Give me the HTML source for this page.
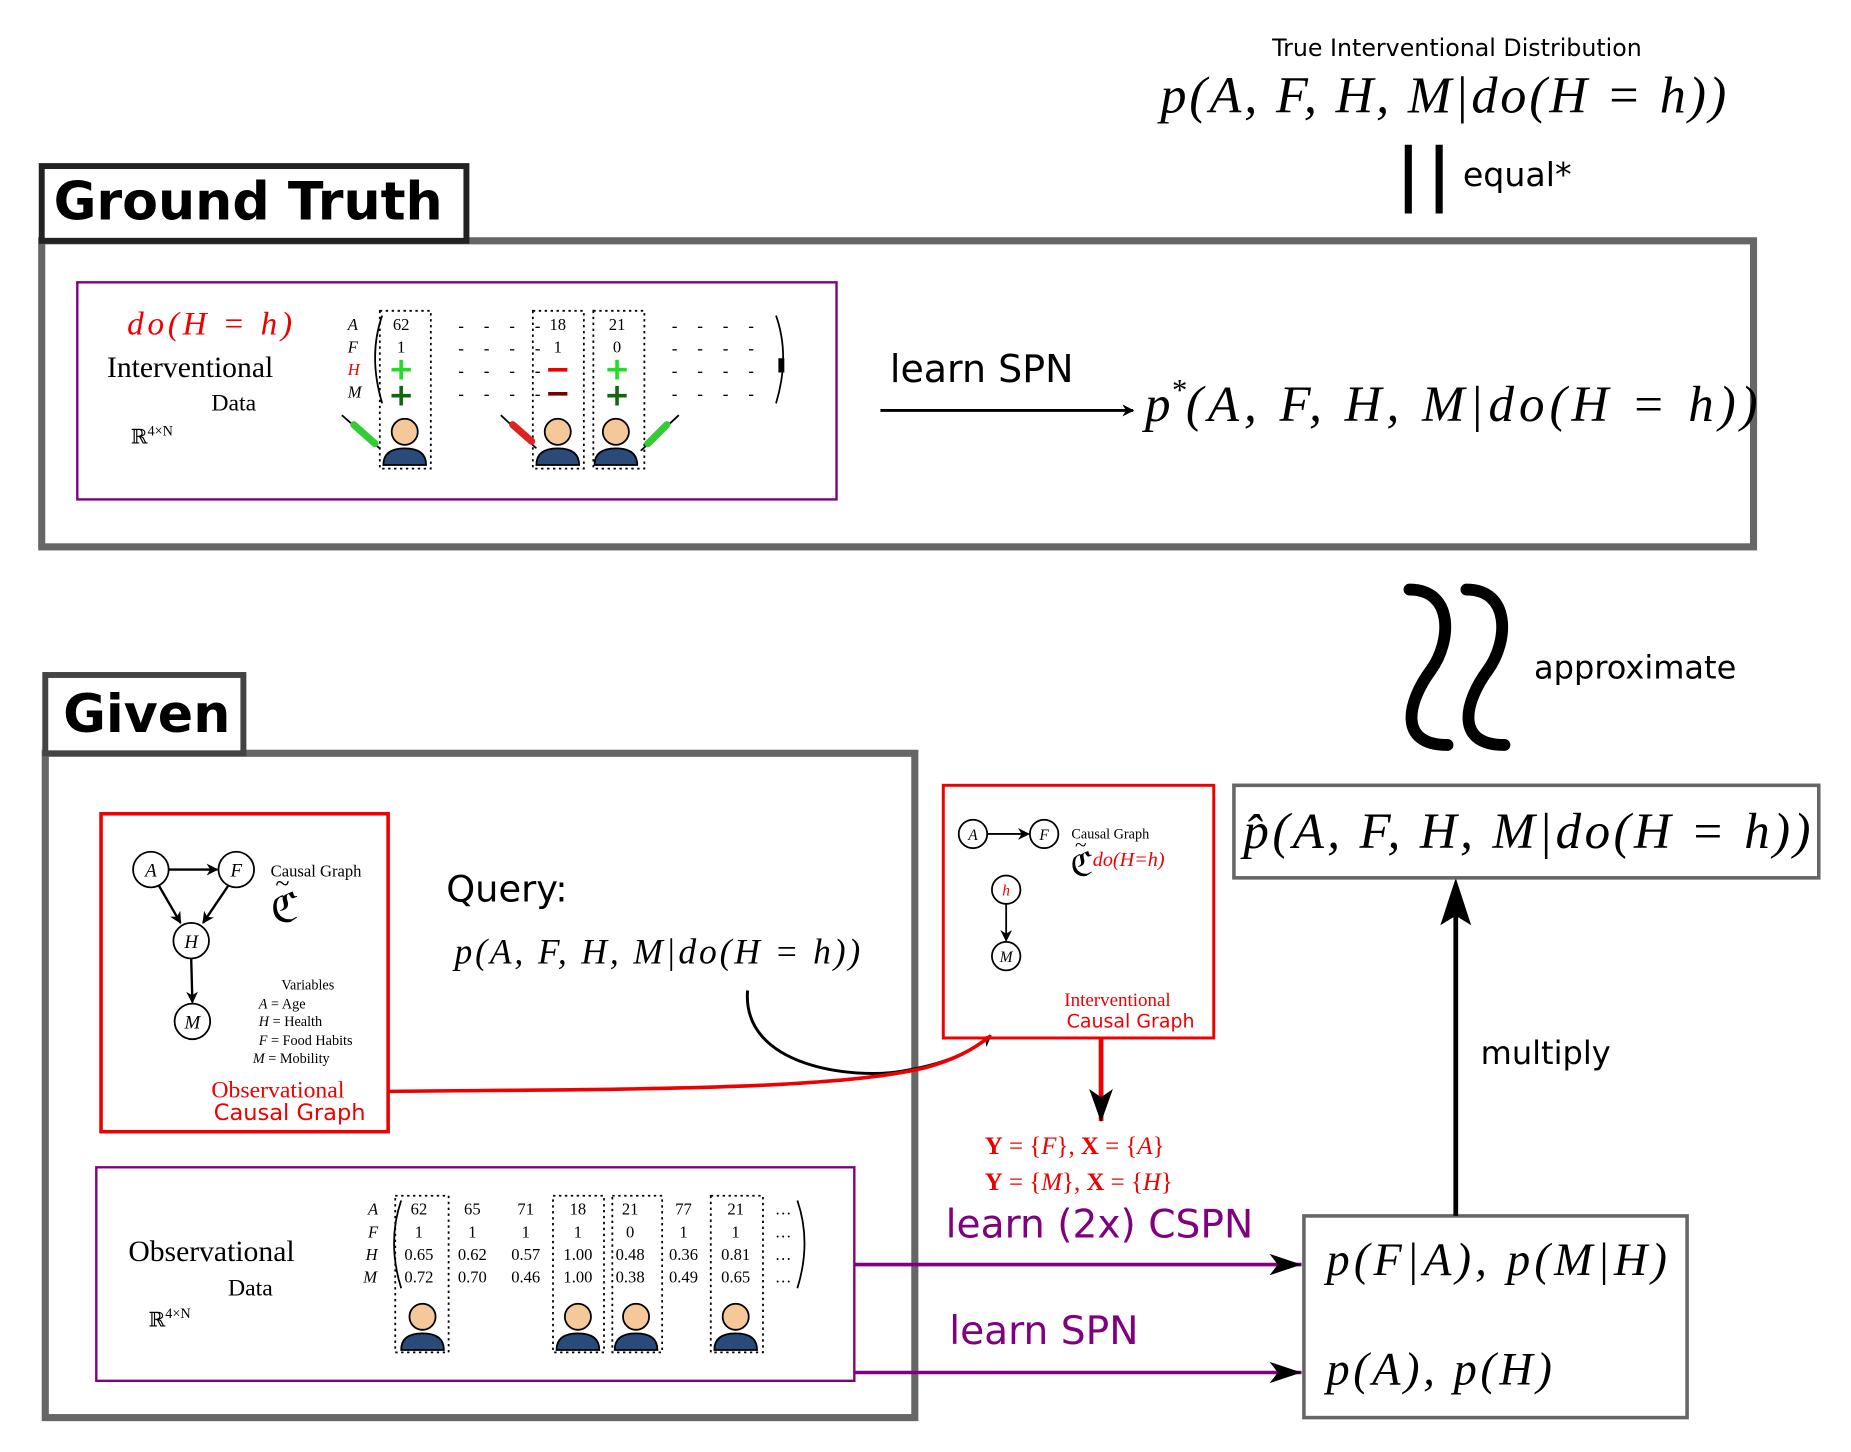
<!DOCTYPE html>
<html><head><meta charset="utf-8"><style>
html,body{margin:0;padding:0;background:#fff}
svg{display:block}
.s{font-family:"DejaVu Sans","Liberation Sans",sans-serif}
.m{font-family:"Liberation Serif","DejaVu Serif",serif;font-style:italic}
.r{font-family:"Liberation Serif","DejaVu Serif",serif}
</style></head><body>
<svg width="1851" height="1452" viewBox="0 0 1560 1224" xmlns="http://www.w3.org/2000/svg">
<defs>
<marker id="ab" markerWidth="10" markerHeight="10" refX="9" refY="5" orient="auto" markerUnits="userSpaceOnUse" viewBox="0 0 10 10"><path d="M0,0 L10,5 L0,10 L3,5z" fill="#000"/></marker>
<g id="person">
<circle cx="0" cy="-8" r="11" fill="#f5c89a" stroke="#000" stroke-width="1.5"/>
<path d="M-18,20 Q-18,6 0,6 Q18,6 18,20z" fill="#2a4a7a" stroke="#000" stroke-width="1.5"/>
</g>
</defs>

<!-- top -->
<text x="1228" y="47" class="s" font-size="20" text-anchor="middle">True Interventional Distribution</text>
<text x="978" y="95" class="m" font-size="44" textLength="477" lengthAdjust="spacing">p(A, F, H, M|do(H = h))</text>
<line x1="1187" y1="122" x2="1187" y2="180" stroke="#000" stroke-width="6"/>
<line x1="1213" y1="122" x2="1213" y2="180" stroke="#000" stroke-width="6"/>
<text x="1233" y="157" class="s" font-size="28">equal*</text>

<!-- Ground truth -->
<rect x="35" y="203" width="1443" height="258" fill="none" stroke="#666" stroke-width="6"/>
<rect x="35" y="140" width="358" height="63" fill="#fff" stroke="#222" stroke-width="5"/>
<text x="45" y="185" class="s" font-size="44" font-weight="bold">Ground Truth</text>
<rect x="65" y="238" width="640" height="183" fill="none" stroke="#800080" stroke-width="2"/>
<text x="107" y="282" class="m" font-size="28" fill="#e00" textLength="139" lengthAdjust="spacing">do(H = h)</text>
<text x="90" y="318" class="r" font-size="25">Interventional</text>
<text x="178" y="346" class="r" font-size="20">Data</text>
<text x="110" y="374" class="r" font-size="17">ℝ<tspan font-size="12" dy="-7">4×N</tspan></text>
<g class="m" font-size="14">
<text x="293" y="278">A</text><text x="293" y="297">F</text><text x="293" y="316" fill="#e00">H</text><text x="293" y="335">M</text>
</g>
<path d="M322,266 Q310,300 322,340" fill="none" stroke="#000" stroke-width="1.5"/>
<path d="M654,266 Q666,300 654,340" fill="none" stroke="#000" stroke-width="1.5"/>
<rect x="656" y="302" width="5" height="12" fill="#000"/>
<g fill="none" stroke="#000" stroke-width="1.5" stroke-dasharray="2,3">
<rect x="320" y="262" width="43" height="133"/><rect x="449" y="262" width="43" height="133"/><rect x="500" y="262" width="43" height="133"/>
</g>
<g class="r" font-size="14" text-anchor="middle">
<text x="338" y="278">62</text><text x="338" y="297">1</text>
<text x="470" y="278">18</text><text x="470" y="297">1</text>
<text x="520" y="278">21</text><text x="520" y="297">0</text>
</g>
<g font-family="DejaVu Sans" font-weight="bold" text-anchor="middle" font-size="26">
<text x="338" y="320" fill="#22dd22">+</text><text x="338" y="342" fill="#116611">+</text>
<text x="470" y="320" fill="#e00">−</text><text x="470" y="340" fill="#7a0000">−</text>
<text x="520" y="320" fill="#22dd22">+</text><text x="520" y="342" fill="#116611">+</text>
</g>
<g class="s" font-size="14" letter-spacing="6">
<text x="386" y="280">- - - -</text><text x="386" y="299">- - - -</text><text x="386" y="318">- - - -</text><text x="386" y="337">- - - -</text>
<text x="566" y="280">- - - -</text><text x="566" y="299">- - - -</text><text x="566" y="318">- - - -</text><text x="566" y="337">- - - -</text>
</g>
<use href="#person" x="341" y="372"/><use href="#person" x="470" y="372"/><use href="#person" x="519" y="372"/>
<g stroke="#000" stroke-width="1.5"><line x1="288" y1="350" x2="320" y2="378"/><line x1="422" y1="350" x2="452" y2="378"/><line x1="572" y1="350" x2="540" y2="380"/></g>
<g stroke-width="6" stroke-linecap="round"><line x1="298" y1="358" x2="316" y2="374" stroke="#33cc33"/><line x1="432" y1="358" x2="448" y2="372" stroke="#dd2222"/><line x1="562" y1="358" x2="546" y2="374" stroke="#33cc33"/></g>
<text x="750" y="322" class="s" font-size="32">learn SPN</text>
<line x1="742" y1="346" x2="955" y2="346" stroke="#000" stroke-width="2.5" marker-end="url(#ab)"/>
<text x="965" y="355" class="m" font-size="43">p<tspan font-size="26" dy="-18">*</tspan><tspan dy="18" textLength="482" lengthAdjust="spacing">(A, F, H, M|do(H = h))</tspan></text>

<!-- approximate -->
<path d="M1188,497 C1225,497 1224,540 1206,565 C1186,592 1178,628 1220,628" fill="none" stroke="#000" stroke-width="10" stroke-linecap="round"/>
<path d="M1236,497 C1273,497 1272,540 1254,565 C1234,592 1226,628 1268,628" fill="none" stroke="#000" stroke-width="10" stroke-linecap="round"/>
<text x="1293" y="572" class="s" font-size="27">approximate</text>

<!-- Given -->
<rect x="38" y="635" width="733" height="560" fill="none" stroke="#666" stroke-width="6"/>
<rect x="38" y="569" width="167" height="66" fill="#fff" stroke="#444" stroke-width="5"/>
<text x="53" y="617" class="s" font-size="44" font-weight="bold">Given</text>

<rect x="85" y="686" width="242" height="268" fill="none" stroke="#e00" stroke-width="3"/>
<g fill="#fff" stroke="#000" stroke-width="1.5">
<circle cx="127" cy="733" r="15"/><circle cx="199" cy="733" r="15"/><circle cx="161" cy="793" r="15"/><circle cx="162" cy="861" r="15"/>
</g>
<g class="m" font-size="16" text-anchor="middle"><text x="127" y="739">A</text><text x="199" y="739">F</text><text x="161" y="799">H</text><text x="162" y="867">M</text></g>
<g stroke="#000" stroke-width="2" marker-end="url(#ab)">
<line x1="142" y1="733" x2="183" y2="733"/><line x1="134" y1="747" x2="152" y2="778"/><line x1="192" y1="747" x2="171" y2="778"/><line x1="161" y1="808" x2="162" y2="845"/>
</g>
<text x="228" y="739" class="r" font-size="14">Causal Graph</text>
<text x="228" y="777" class="r" font-size="34">ℭ</text><text x="232" y="752" class="r" font-size="22">~</text>
<g class="r" font-size="12"><text x="237" y="834">Variables</text>
<text x="218" y="850"><tspan font-style="italic">A</tspan> = Age</text><text x="218" y="865"><tspan font-style="italic">H</tspan> = Health</text>
<text x="218" y="881"><tspan font-style="italic">F</tspan> = Food Habits</text><text x="213" y="896"><tspan font-style="italic">M</tspan> = Mobility</text></g>
<text x="178" y="925" class="r" font-size="20" fill="#e00">Observational</text>
<text x="180" y="944" class="s" font-size="19" fill="#e00">Causal Graph</text>

<text x="376" y="760" class="s" font-size="31">Query:</text>
<text x="383" y="812" class="m" font-size="30" textLength="342" lengthAdjust="spacing">p(A, F, H, M|do(H = h))</text>
<path d="M630,835 C625,900 720,910 760,903 C790,898 815,890 835,873" fill="none" stroke="#000" stroke-width="2.5" marker-end="url(#ab)"/>
<path d="M327,920 C500,918 700,920 780,900 C805,893 820,885 835,873" fill="none" stroke="#e00" stroke-width="3"/>

<rect x="795" y="662" width="228" height="213" fill="none" stroke="#e00" stroke-width="2.5"/>
<g fill="#fff" stroke="#000" stroke-width="1.5"><circle cx="820" cy="703" r="12"/><circle cx="880" cy="703" r="12"/><circle cx="848" cy="750" r="12"/><circle cx="848" cy="806" r="12"/></g>
<g class="m" font-size="13" text-anchor="middle"><text x="820" y="708">A</text><text x="880" y="708">F</text><text x="848" y="755" fill="#e00">h</text><text x="848" y="811">M</text></g>
<line x1="832" y1="703" x2="867" y2="703" stroke="#000" stroke-width="1.5" marker-end="url(#ab)"/>
<line x1="848" y1="762" x2="848" y2="793" stroke="#000" stroke-width="1.5" marker-end="url(#ab)"/>
<text x="903" y="707" class="r" font-size="12">Causal Graph</text>
<text x="902" y="738" class="r" font-size="28">ℭ</text><text x="906" y="718" class="r" font-size="18">~</text>
<text x="921" y="730" class="m" font-size="17" fill="#e00">do(H=h)</text>
<text x="897" y="848" class="r" font-size="16" fill="#e00">Interventional</text>
<text x="899" y="866" class="s" font-size="16" fill="#e00">Causal Graph</text>
<line x1="928" y1="875" x2="928" y2="945" stroke="#e00" stroke-width="4"/>
<path d="M918,918 L928,946 L938,918 L928,925z" fill="#000"/>
<text x="830" y="973" class="r" font-size="21" fill="#e00"><tspan font-weight="bold">Y</tspan> = {<tspan font-style="italic">F</tspan>}, <tspan font-weight="bold">X</tspan> = {<tspan font-style="italic">A</tspan>}</text>
<text x="830" y="1003" class="r" font-size="21" fill="#e00"><tspan font-weight="bold">Y</tspan> = {<tspan font-style="italic">M</tspan>}, <tspan font-weight="bold">X</tspan> = {<tspan font-style="italic">H</tspan>}</text>
<text x="797" y="1043" class="s" font-size="33" fill="#800080">learn (2x) CSPN</text>
<text x="800" y="1133" class="s" font-size="33" fill="#800080">learn SPN</text>

<rect x="81" y="984" width="639" height="180" fill="none" stroke="#800080" stroke-width="2"/>
<text x="108" y="1063" class="r" font-size="25">Observational</text>
<text x="192" y="1092" class="r" font-size="20">Data</text>
<text x="125" y="1118" class="r" font-size="17">ℝ<tspan font-size="12" dy="-7">4×N</tspan></text>
<g class="m" font-size="14"><text x="310" y="1024">A</text><text x="310" y="1043">F</text><text x="308" y="1062">H</text><text x="306" y="1081">M</text></g>
<path d="M338,1012 Q326,1047 338,1086" fill="none" stroke="#000" stroke-width="1.5"/>
<path d="M672,1012 Q684,1047 672,1086" fill="none" stroke="#000" stroke-width="1.5"/>
<g fill="none" stroke="#000" stroke-width="1.5" stroke-dasharray="2,3">
<rect x="333" y="1008" width="45" height="132"/><rect x="466" y="1008" width="43" height="132"/><rect x="516" y="1008" width="42" height="132"/><rect x="599" y="1008" width="44" height="132"/>
</g>
<g class="r" font-size="14" text-anchor="middle">
<text x="353" y="1024">62</text><text x="353" y="1043">1</text><text x="353" y="1062">0.65</text><text x="353" y="1081">0.72</text>
<text x="398" y="1024">65</text><text x="398" y="1043">1</text><text x="398" y="1062">0.62</text><text x="398" y="1081">0.70</text>
<text x="443" y="1024">71</text><text x="443" y="1043">1</text><text x="443" y="1062">0.57</text><text x="443" y="1081">0.46</text>
<text x="487" y="1024">18</text><text x="487" y="1043">1</text><text x="487" y="1062">1.00</text><text x="487" y="1081">1.00</text>
<text x="531" y="1024">21</text><text x="531" y="1043">0</text><text x="531" y="1062">0.48</text><text x="531" y="1081">0.38</text>
<text x="576" y="1024">77</text><text x="576" y="1043">1</text><text x="576" y="1062">0.36</text><text x="576" y="1081">0.49</text>
<text x="620" y="1024">21</text><text x="620" y="1043">1</text><text x="620" y="1062">0.81</text><text x="620" y="1081">0.65</text>
<text x="660" y="1024">…</text><text x="660" y="1043">…</text><text x="660" y="1062">…</text><text x="660" y="1081">…</text>
</g>
<use href="#person" x="356" y="1118"/><use href="#person" x="487" y="1118"/><use href="#person" x="536" y="1118"/><use href="#person" x="620" y="1118"/>

<line x1="720" y1="1066" x2="1097" y2="1066" stroke="#800080" stroke-width="3"/>
<path d="M1070,1057 L1097,1066 L1070,1075 L1077,1066z" fill="#000"/>
<line x1="720" y1="1157" x2="1097" y2="1157" stroke="#800080" stroke-width="3"/>
<path d="M1070,1148 L1097,1157 L1070,1166 L1077,1157z" fill="#000"/>

<rect x="1099" y="1025" width="323" height="170" fill="none" stroke="#666" stroke-width="3"/>
<text x="1118" y="1075" class="m" font-size="39" textLength="287" lengthAdjust="spacing">p(F|A), p(M|H)</text>
<text x="1118" y="1167" class="m" font-size="39" textLength="190" lengthAdjust="spacing">p(A), p(H)</text>
<line x1="1227" y1="1025" x2="1227" y2="760" stroke="#000" stroke-width="4"/>
<path d="M1214,780 L1227,740 L1240,780 L1227,772z" fill="#000"/>
<text x="1248" y="897" class="s" font-size="27">multiply</text>

<rect x="1040" y="662" width="493" height="78" fill="none" stroke="#666" stroke-width="3"/>
<text x="1048" y="715" class="m" font-size="43" textLength="478" lengthAdjust="spacing">p̂(A, F, H, M|do(H = h))</text>
</svg>
</body></html>
